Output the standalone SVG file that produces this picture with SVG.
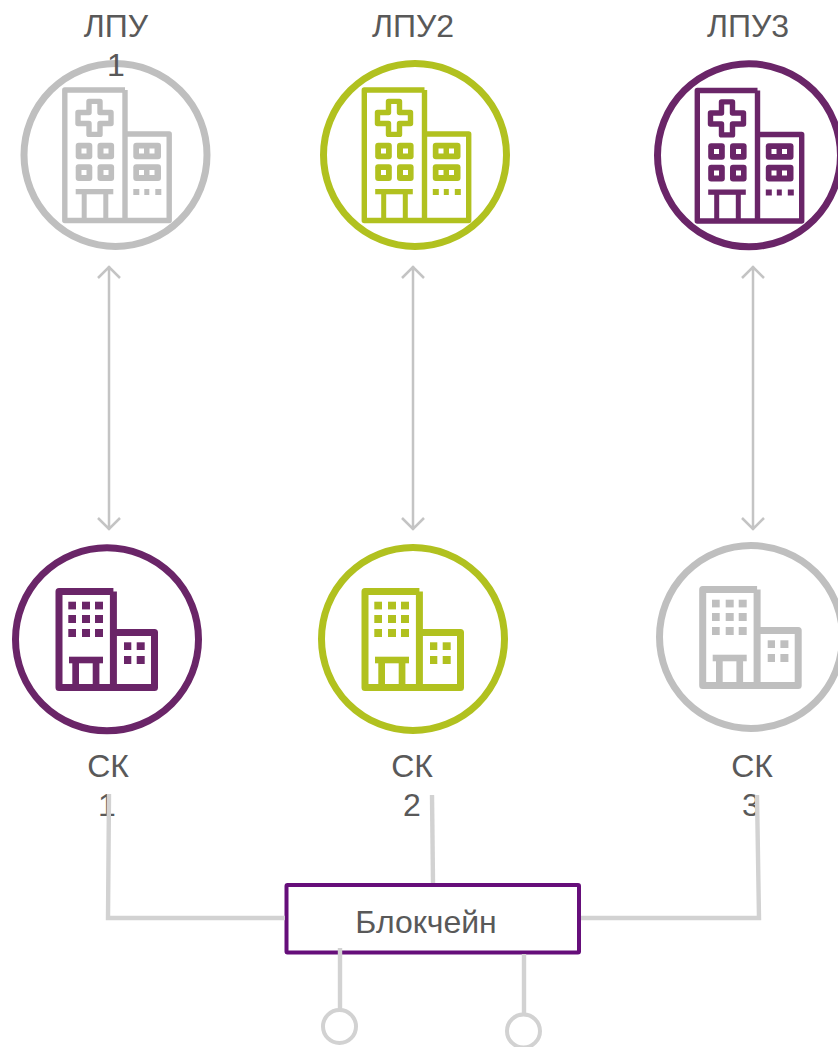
<svg xmlns="http://www.w3.org/2000/svg" width="838" height="1047" viewBox="0 0 838 1047">
<style>
text{font-family:"Liberation Sans",Arial,sans-serif;font-size:32px;fill:#595959;text-anchor:middle}
.ring{fill:#fff;stroke:currentColor;stroke-width:7}
.grey{color:#bfbfbf}.green{color:#b1c11f}.purple{color:#6a2568}
.arrow{fill:none;stroke:#c4c4c4;stroke-width:2.5}
.link{fill:none;stroke:#d2d2d2;stroke-width:4.4}
.out{fill:none;stroke:currentColor;stroke-linejoin:round}
.solid{fill:currentColor}
.hole{fill:#fff}
</style>
<defs>
<g id="hospital">
<path class="out" stroke-width="5.4" d="M9.5 -65H-50.7V65.5H53.7V-21H9.5M9.5 -65V65.5"/>
<path class="out" stroke-width="5.4" d="M-26.5 -53.6H-15.5V-42.5H-4.5V-31.5H-15.5V-20.6H-26.5V-31.5H-37.5V-42.5H-26.5Z"/>
<g class="solid">
<rect x="-39.8" y="-12.3" width="16.6" height="16.6" rx="3"/>
<rect x="-18" y="-12.3" width="16.6" height="16.6" rx="3"/>
<rect x="-39.8" y="9.3" width="16.6" height="16.6" rx="3"/>
<rect x="-18" y="9.3" width="16.6" height="16.6" rx="3"/>
<rect x="17.8" y="-12.3" width="27.7" height="16.6" rx="3"/>
<rect x="17.8" y="9.3" width="27.7" height="16.6" rx="3"/>
<rect x="17.8" y="34" width="6" height="6"/>
<rect x="28.8" y="34" width="5" height="6"/>
<rect x="39.8" y="34" width="6" height="6"/>
<rect x="-39.8" y="34" width="37.6" height="5.3"/>
<rect x="-33.8" y="36" width="5" height="30"/>
<rect x="-12.2" y="36" width="5" height="30"/>
</g>
<g class="hole">
<rect x="-34" y="-6.5" width="5" height="5"/>
<rect x="-12" y="-6.5" width="5" height="5"/>
<rect x="-34" y="15" width="5" height="5"/>
<rect x="-12" y="15" width="5" height="5"/>
<rect x="23.5" y="-6.5" width="5" height="5"/>
<rect x="34" y="-6.5" width="5" height="5"/>
<rect x="23.5" y="15" width="5" height="5"/>
<rect x="34" y="15" width="5" height="5"/>
</g>
</g>
<g id="office">
<path class="out" stroke-width="7" d="M6.4 -47.5H-48V48.5H47.5V-6.5H6.4M6.4 -47.5V48.5"/>
<g class="solid">
<rect x="-38.7" y="-37.3" width="7.7" height="7.7"/>
<rect x="-25" y="-37.3" width="8" height="7.7"/>
<rect x="-12" y="-37.3" width="8" height="7.7"/>
<rect x="-38.7" y="-24" width="7.7" height="8"/>
<rect x="-25" y="-24" width="8" height="8"/>
<rect x="-12" y="-24" width="8" height="8"/>
<rect x="-38.7" y="-10" width="7.7" height="8"/>
<rect x="-25" y="-10" width="8" height="8"/>
<rect x="-12" y="-10" width="8" height="8"/>
<rect x="17" y="3.3" width="7.3" height="7.7"/>
<rect x="29.7" y="3.3" width="8" height="7.7"/>
<rect x="17" y="17" width="7.3" height="8"/>
<rect x="29.7" y="17" width="8" height="8"/>
<rect x="-38" y="17.7" width="34" height="6.6"/>
<rect x="-34.7" y="20" width="6.7" height="29"/>
<rect x="-14.3" y="20" width="6.7" height="29"/>
</g>
</g>
<g id="updown"><path class="arrow" d="M0 0V264M-11 12L0 1L11 12M-11 252L0 263L11 252"/></g>
</defs>

<g id="lpu1" class="grey"><circle class="ring" cx="115.5" cy="155" r="91.5"/><use href="#hospital" x="115.5" y="155"/><text x="116" y="37">ЛПУ</text><text x="116" y="76">1</text></g>
<g id="lpu2" class="green"><circle class="ring" cx="415" cy="155" r="91.5"/><use href="#hospital" x="415" y="155"/><text x="413" y="37">ЛПУ2</text></g>
<g id="lpu3" class="purple"><circle class="ring" cx="749" cy="155.3" r="91.5"/><use href="#hospital" x="748" y="155.5"/><text x="748" y="37">ЛПУ3</text></g>
<g id="sk1" class="purple"><circle class="ring" cx="107" cy="639.3" r="91.5"/><use href="#office" x="107" y="639"/><text x="108" y="777">СК</text><text x="107" y="816">1</text></g>
<g id="sk2" class="green"><circle class="ring" cx="413" cy="639" r="91.5"/><use href="#office" x="413" y="639"/><text x="412" y="777">СК</text><text x="412" y="816">2</text></g>
<g id="sk3" class="grey"><circle class="ring" cx="751" cy="637" r="91.5"/><use href="#office" x="750.7" y="637"/><text x="752" y="777">СК</text><text x="751" y="816">3</text></g>
<g id="blockchain"><rect x="286.5" y="885" width="292.5" height="67.5" fill="#fff" stroke="#660e7a" stroke-width="4" rx="1"/><text x="426" y="933">Блокчейн</text></g>
<g id="client1"><circle cx="339.5" cy="1026.5" r="16.5" fill="#fff" stroke="#d2d2d2" stroke-width="4"/></g>
<g id="client2"><circle cx="523.5" cy="1031" r="16.5" fill="#fff" stroke="#d2d2d2" stroke-width="4"/></g>

<g id="connectors">
<use href="#updown" x="109" y="266"/>
<use href="#updown" x="413" y="266"/>
<use href="#updown" x="753" y="266"/>
<path class="link" d="M109 794L108 918H285"/>
<path class="link" d="M432 795L433 883"/>
<path class="link" d="M757 795L759 918H581"/>
<path class="link" d="M340 948V1010"/>
<path class="link" d="M524 954V1014"/>
</g>
</svg>
